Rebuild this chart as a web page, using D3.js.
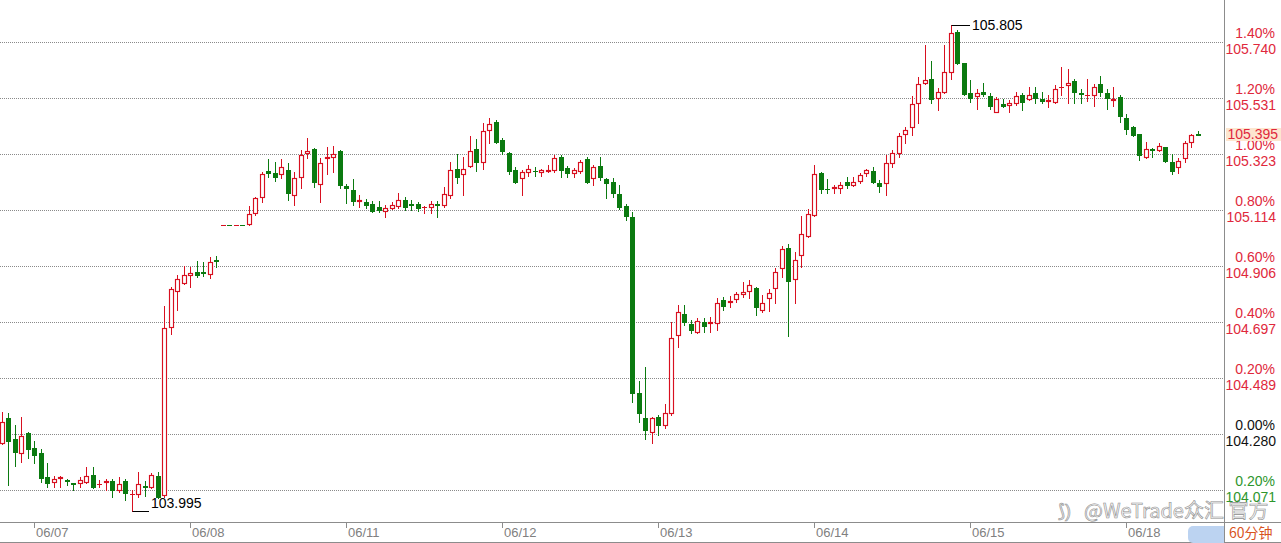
<!DOCTYPE html>
<html><head><meta charset="utf-8">
<script src="https://cdn.jsdelivr.net/npm/d3@7/dist/d3.min.js"></script>
<style>html,body{margin:0;padding:0;background:#fff;overflow:hidden}svg{display:block}</style>
</head><body><svg id="c" width="1281" height="543"></svg>
<script>
// ---- data (60-minute candles) ----
const days = ["06/06","06/07","06/08","06/11","06/12","06/13","06/14","06/15","06/18"];
const candlesPerDay = [5,24,24,24,24,24,24,24,12];
const open = [104.247,104.340,104.261,104.209,104.284,104.228,104.209,104.120,104.101,104.116,104.109,104.096,104.097,104.101,104.127,104.092,104.101,104.105,104.071,104.105,104.055,104.057,104.088,104.083,104.124,104.053,104.679,104.813,104.842,104.872,104.883,104.882,104.876,104.928,105.058,105.059,105.058,105.059,105.062,105.103,105.163,105.260,105.252,105.248,105.263,105.170,105.237,105.327,105.341,105.211,105.308,105.312,105.334,105.202,105.189,105.148,105.144,105.137,105.125,105.111,105.122,105.129,105.152,105.135,105.137,105.124,105.125,105.135,105.133,105.170,105.267,105.248,105.278,105.341,105.293,105.412,105.442,105.375,105.327,105.263,105.233,105.256,105.261,105.256,105.261,105.263,105.312,105.271,105.252,105.260,105.304,105.233,105.278,105.230,105.219,105.174,105.129,105.088,104.433,104.340,104.287,104.343,104.314,104.358,104.649,104.727,104.690,104.660,104.697,104.693,104.693,104.779,104.770,104.783,104.803,104.813,104.824,104.742,104.787,104.824,104.898,104.973,104.857,104.947,105.018,105.096,105.252,105.194,105.196,105.196,105.219,105.207,105.222,105.252,105.260,105.215,105.215,105.289,105.327,105.397,105.423,105.513,105.587,105.602,105.531,105.554,105.628,105.777,105.662,105.550,105.539,105.552,105.539,105.479,105.509,105.505,105.513,105.543,105.528,105.550,105.528,105.522,105.517,105.571,105.580,105.595,105.550,105.541,105.543,105.584,105.550,105.524,105.535,105.457,105.423,105.397,105.312,105.341,105.338,105.349,105.293,105.274,105.308,105.368,105.397];
const high = [104.362,104.358,104.314,104.343,104.287,104.254,104.224,104.172,104.124,104.124,104.112,104.097,104.120,104.157,104.157,104.109,104.112,104.112,104.120,104.112,104.071,104.138,104.105,104.135,104.138,104.757,104.827,104.872,104.906,104.902,104.924,104.921,104.939,104.943,105.058,105.059,105.058,105.059,105.129,105.163,105.256,105.304,105.293,105.304,105.289,105.256,105.338,105.382,105.345,105.308,105.349,105.353,105.338,105.211,105.230,105.170,105.155,105.148,105.148,105.133,105.144,105.178,105.163,105.152,105.144,105.129,105.148,105.148,105.200,105.293,105.323,105.312,105.390,105.379,105.438,105.457,105.450,105.382,105.330,105.274,105.263,105.282,105.274,105.267,105.282,105.319,105.319,105.278,105.271,105.301,105.312,105.282,105.312,105.233,105.233,105.207,105.137,105.107,104.477,104.530,104.343,104.351,104.392,104.697,104.760,104.760,104.705,104.712,104.712,104.716,104.787,104.790,104.794,104.809,104.846,104.854,104.827,104.798,104.820,104.898,104.980,104.988,104.958,105.092,105.118,105.282,105.256,105.230,105.207,105.219,105.237,105.237,105.252,105.267,105.274,105.226,105.319,105.338,105.401,105.423,105.539,105.610,105.729,105.669,105.569,105.729,105.805,105.785,105.662,105.598,105.565,105.587,105.550,105.535,105.528,105.524,105.554,105.550,105.572,105.572,105.554,105.543,105.580,105.647,105.639,105.602,105.565,105.602,105.584,105.613,105.565,105.572,105.543,105.472,105.427,105.397,105.368,105.345,105.364,105.349,105.323,105.308,105.371,105.397,105.409];
const low = [104.243,104.090,104.161,104.176,104.191,104.172,104.101,104.083,104.083,104.083,104.090,104.071,104.083,104.097,104.079,104.083,104.071,104.045,104.064,104.034,103.995,104.045,104.049,104.079,104.042,104.045,104.652,104.742,104.839,104.827,104.865,104.869,104.861,104.902,105.058,105.058,105.058,105.058,105.058,105.096,105.144,105.237,105.222,105.233,105.152,105.133,105.196,105.308,105.200,105.144,105.248,105.256,105.196,105.140,105.133,105.125,105.122,105.107,105.107,105.088,105.118,105.122,105.114,105.114,105.111,105.103,105.103,105.088,105.125,105.159,105.215,105.170,105.274,105.260,105.267,105.364,105.364,105.323,105.248,105.215,105.170,105.241,105.241,105.241,105.256,105.256,105.237,105.237,105.237,105.252,105.215,105.207,105.226,105.159,105.163,105.118,105.077,104.399,104.325,104.261,104.247,104.276,104.302,104.351,104.604,104.686,104.656,104.656,104.660,104.660,104.667,104.742,104.753,104.772,104.790,104.787,104.723,104.734,104.738,104.768,104.865,104.645,104.768,104.902,105.014,105.092,105.178,105.178,105.178,105.178,105.196,105.204,105.215,105.241,105.215,105.181,105.170,105.274,105.312,105.364,105.394,105.438,105.584,105.513,105.487,105.550,105.602,105.658,105.543,105.517,105.491,105.539,105.491,105.479,105.498,105.479,105.505,105.487,105.524,105.513,105.513,105.498,105.513,105.543,105.513,105.513,105.513,105.520,105.502,105.539,105.491,105.502,105.442,105.397,105.390,105.301,105.308,105.312,105.334,105.293,105.248,105.252,105.293,105.349,105.393];
const close = [104.325,104.254,104.213,104.273,104.224,104.202,104.116,104.097,104.112,104.120,104.105,104.092,104.109,104.124,104.083,104.094,104.105,104.071,104.094,104.060,104.057,104.094,104.084,104.127,104.045,104.675,104.820,104.857,104.872,104.880,104.872,104.880,104.921,104.924,105.058,105.058,105.058,105.058,105.099,105.159,105.248,105.252,105.237,105.274,105.178,105.233,105.319,105.334,105.219,105.289,105.312,105.323,105.207,105.198,105.148,105.152,105.133,105.111,105.114,105.122,105.133,105.152,105.125,105.131,105.122,105.127,105.137,105.131,105.174,105.263,105.237,105.267,105.334,105.293,105.409,105.435,105.368,105.334,105.260,105.219,105.256,105.267,105.258,105.263,105.263,105.308,105.263,105.252,105.263,105.293,105.219,105.274,105.237,105.215,105.178,105.125,105.092,104.433,104.358,104.295,104.340,104.314,104.358,104.638,104.734,104.697,104.667,104.701,104.682,104.697,104.768,104.757,104.774,104.801,104.807,104.835,104.753,104.768,104.805,104.883,104.969,104.850,104.928,105.025,105.099,105.248,105.193,105.191,105.200,105.207,105.207,105.219,105.245,105.263,105.219,105.204,105.289,105.327,105.390,105.412,105.509,105.584,105.598,105.528,105.554,105.628,105.773,105.662,105.546,105.531,105.550,105.548,105.502,105.528,105.502,105.513,105.539,105.517,105.543,105.531,105.520,105.524,105.565,105.574,105.587,105.554,105.546,105.543,105.572,105.554,105.531,105.528,105.464,105.416,105.394,105.319,105.341,105.338,105.353,105.297,105.260,105.297,105.364,105.394,105.395];
const basePrice = 104.280;
const pctLevels = [1.4,1.2,1.0,0.8,0.6,0.4,0.2,0.0,-0.2];
const pctLabels = ["1.40%","1.20%","1.00%","0.80%","0.60%","0.40%","0.20%","0.00%","0.20%"];
const priceLabels = ["105.740","105.531","105.323","105.114","104.906","104.697","104.489","104.280","104.071"];
const lastPriceLabel = "105.395";
const periodLabel = "60分钟";
const watermark = "@WeTrade众汇 官方";

// ---- setup ----
const W = 1281, H = 543;
const plotRight = 1224, axisY = 522;
const RED = "#d81020", GREEN = "#0b7a10", LGREEN = "#2d962d";
const svg = d3.select("#c");
const FONT = "'Liberation Sans', Arial, sans-serif";

const n = open.length;
const idx = d3.range(n);
const x = d3.scaleBand().domain(idx).range([-1.75, -1.75 + n * 6.5]).padding(0);
const cxOf = i => Math.round(x(i) + x.bandwidth() / 2);
const y = d3.scaleLinear()
  .domain([basePrice * (1 - 0.002), basePrice * (1 + 0.014)])
  .range([490, 42]);

const dayStart = [];
let acc = 0;
candlesPerDay.forEach((c, k) => { dayStart.push({ day: days[k], i: acc }); acc += c; });
const ticks = dayStart.slice(1);

svg.append("rect").attr("width", W).attr("height", H).attr("fill", "#fff");

// grid
const gridY = pctLevels.map(p => Math.round(y(basePrice * (1 + p / 100))));
svg.append("g").selectAll("line").data(gridY).join("line")
  .attr("x1", 0).attr("x2", plotRight).attr("y1", d => d + 0.5).attr("y2", d => d + 0.5)
  .attr("stroke", "#8a8a8a").attr("stroke-dasharray", "1,1").attr("stroke-width", 1);

// watermark
const wm = svg.append("g");
wm.append("text").attr("x", 1058).attr("y", 517).text("⟆)")
  .attr("font-family", FONT).attr("font-size", 18).attr("fill", "#f2f2f2").attr("stroke", "#9a9a9a").attr("stroke-width", 0.7);
wm.append("text").attr("x", 1084).attr("y", 518).text(watermark)
  .attr("font-family", "'Noto Sans CJK SC', " + FONT).attr("font-size", 20).attr("fill", "#f6f6f6")
  .attr("stroke", "#8e8e8e").attr("stroke-width", 0.6);

// candles
const g = svg.append("g");
idx.forEach(i => {
  const cx = cxOf(i);
  const up = close[i] >= open[i];
  const col = up ? RED : GREEN;
  const yh = Math.round(y(high[i])), yl = Math.round(y(low[i]));
  const top = Math.round(y(Math.max(open[i], close[i])));
  const bot = Math.round(y(Math.min(open[i], close[i])));
  if (yl > yh) g.append("line").attr("x1", cx + 0.5).attr("x2", cx + 0.5).attr("y1", yh).attr("y2", yl + 1)
    .attr("stroke", col).attr("stroke-width", 1);
  if (bot - top < 1) {
    g.append("line").attr("x1", cx - 2).attr("x2", cx + 3).attr("y1", top + 0.5).attr("y2", top + 0.5)
      .attr("stroke", col).attr("stroke-width", 1);
  } else if (up) {
    g.append("rect").attr("x", cx - 1.5).attr("y", top + 0.5).attr("width", 4).attr("height", bot - top)
      .attr("fill", "#fff").attr("stroke", col).attr("stroke-width", 1.15);
  } else {
    g.append("rect").attr("x", cx - 2).attr("y", top).attr("width", 5).attr("height", bot - top + 1)
      .attr("fill", col);
  }
});

// max / min markers
const iMax = d3.maxIndex(high), iMin = d3.minIndex(low);
const mx = cxOf(iMax), myy = Math.round(y(high[iMax]));
svg.append("line").attr("x1", mx + 0.5).attr("x2", mx + 19).attr("y1", myy + 0.5).attr("y2", myy + 0.5).attr("stroke", "#000");
svg.append("text").attr("x", mx + 21).attr("y", myy + 1).attr("dominant-baseline", "middle")
  .attr("font-family", FONT).attr("font-size", 14).attr("fill", "#000").text(high[iMax].toFixed(3));
const nx = cxOf(iMin), ny = Math.round(y(low[iMin]));
svg.append("line").attr("x1", nx + 0.5).attr("x2", nx + 17).attr("y1", ny + 0.5).attr("y2", ny + 0.5).attr("stroke", "#000");
svg.append("text").attr("x", nx + 19).attr("y", ny - 3)
  .attr("font-family", FONT).attr("font-size", 14).attr("fill", "#000").text(low[iMin].toFixed(3));

// right axis
svg.append("line").attr("x1", plotRight + 0.5).attr("x2", plotRight + 0.5).attr("y1", 0).attr("y2", H).attr("stroke", "#8c8c8c");
const labColor = p => p > 0 ? "#e0283c" : (p < 0 ? LGREEN : "#111");
const ax = svg.append("g").attr("font-family", FONT).attr("font-size", 14).attr("text-anchor", "end");
pctLevels.forEach((p, k) => {
  ax.append("text").attr("x", 1275).attr("y", gridY[k] - 4).attr("fill", labColor(p)).text(pctLabels[k]);
  ax.append("text").attr("x", 1276).attr("y", gridY[k] + 12).attr("fill", labColor(p)).text(priceLabels[k]);
});
// last price box
const lastY = Math.round(y(close[n - 1]));
svg.append("rect").attr("x", 1226).attr("y", lastY - 7).attr("width", 55).attr("height", 13).attr("fill", "#fde6cf");
svg.append("text").attr("x", 1278).attr("y", lastY + 4).attr("text-anchor", "end")
  .attr("font-family", FONT).attr("font-size", 14).attr("fill", "#e0283c").text(lastPriceLabel);

// bottom axis
svg.append("rect").attr("x", 0).attr("y", axisY + 1).attr("width", W).attr("height", H - axisY - 1).attr("fill", "#fff");
svg.append("line").attr("x1", 0).attr("x2", W).attr("y1", axisY + 0.5).attr("y2", axisY + 0.5).attr("stroke", "#8c8c8c");
svg.append("line").attr("x1", 0).attr("x2", W).attr("y1", H - 0.5).attr("y2", H - 0.5).attr("stroke", "#8c8c8c");
svg.append("line").attr("x1", plotRight + 0.5).attr("x2", plotRight + 0.5).attr("y1", axisY).attr("y2", H).attr("stroke", "#8c8c8c");
const bx = svg.append("g").attr("font-family", FONT).attr("font-size", 13);
ticks.forEach(t => {
  const tx = cxOf(t.i);
  bx.append("line").attr("x1", tx + 0.5).attr("x2", tx + 0.5).attr("y1", axisY + 1).attr("y2", axisY + 6).attr("stroke", "#8c8c8c");
  bx.append("text").attr("x", tx + 2).attr("y", 537).attr("fill", "#808080").text(t.day);
});
svg.append("rect").attr("x", 1188).attr("y", 526).attr("width", 36).attr("height", 17).attr("rx", 5).attr("fill", "#bcd3f1");
svg.append("rect").attr("x", 1210).attr("y", 526).attr("width", 14).attr("height", 17).attr("fill", "#bcd3f1");
svg.append("text").attr("x", 1229).attr("y", 538).attr("font-family", "'Noto Sans CJK SC', " + FONT)
  .attr("font-size", 14).attr("fill", "#d9531e").text(periodLabel);
</script></body></html>
